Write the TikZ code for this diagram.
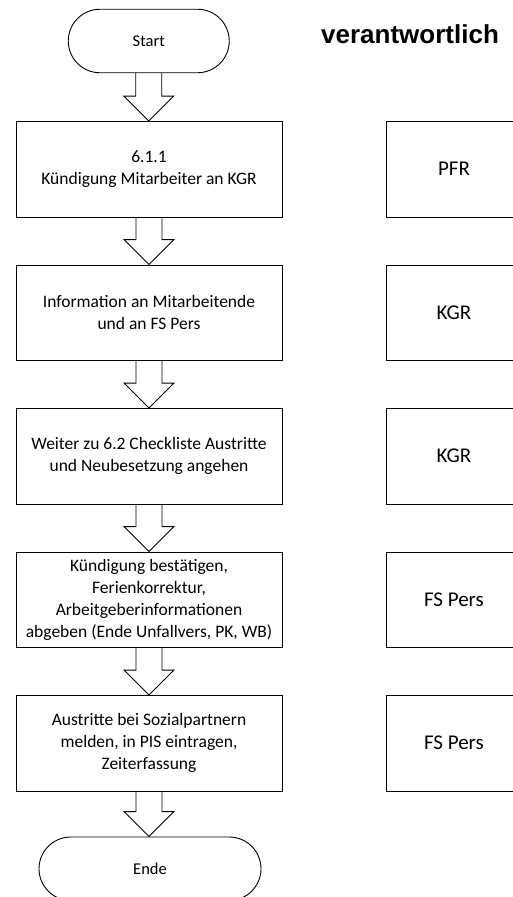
\documentclass[tikz,border=0pt]{standalone}
\usepackage{fontspec}
\setmainfont{Carlito}
\newfontfamily\headfont{Liberation Sans}
\usetikzlibrary{calc}
\tikzset{
  stepbox/.style={draw=black, line width=0.9pt, rectangle, minimum width=266pt, minimum height=95.5pt, inner sep=2pt, align=center, font=\fontsize{17.5}{22}\selectfont},
  rolebox/.style={draw=black, line width=0.9pt, rectangle, minimum width=136pt, minimum height=95.5pt, inner sep=2pt, align=center, font=\fontsize{21}{25}\selectfont},
  term/.style={draw=black, line width=0.9pt, rectangle, rounded corners=31.75pt, minimum height=63.5pt, inner sep=0pt, align=center, font=\fontsize{16.5}{20}\selectfont},
  headtext/.style={font=\headfont\bfseries\fontsize{26}{30}\selectfont, anchor=base west, inner sep=0pt},
  blk/.style={draw=black, line width=0.9pt, line join=miter}
}
\newcommand{\blkarrow}[2]{%
  \draw[blk] let \p1=(#1.south), \p2=(#2.north) in
    (\x1-13pt,\y1) -- (\x1-13pt,\y2+25pt) -- (\x1-25pt,\y2+25pt) -- (\x1,\y2)
    -- (\x1+25pt,\y2+25pt) -- (\x1+13pt,\y2+25pt) -- (\x1+13pt,\y1);}
\begin{document}
\begin{tikzpicture}[x=1pt,y=-1pt]
\useasboundingbox (0,0) rectangle (513,897);
\fill[white] (0,0) rectangle (513,897);

\node[term, minimum width=161pt] (start) at (148.75,41) {Start};
\node[headtext] (title) at (321,43.3) {verantwortlich};

\node[stepbox] (s1) at (149,169.25) {6.1.1\\Kündigung Mitarbeiter an KGR};
\node[stepbox] (s2) at (149,312.75) {Information an Mitarbeitende\\und an FS Pers};
\node[stepbox] (s3) at (149,456.25) {Weiter zu 6.2 Checkliste Austritte\\und Neubesetzung angehen};
\node[stepbox] (s4) at (149,599.75) {Kündigung bestätigen,\\Ferienkorrektur,\\Arbeitgeberinformationen\\abgeben (Ende Unfallvers, PK, WB)};
\node[stepbox] (s5) at (149,743.25) {Austritte bei Sozialpartnern\\melden, in PIS eintragen,\\Zeiterfassung};

\node[term, minimum width=222pt] (ende) at (150,868.75) {Ende};

\node[rolebox] (r1) at (454,169.25) {PFR};
\node[rolebox] (r2) at (454,312.75) {KGR};
\node[rolebox] (r3) at (454,456.25) {KGR};
\node[rolebox] (r4) at (454,599.75) {FS Pers};
\node[rolebox] (r5) at (454,743.25) {FS Pers};

\blkarrow{start}{s1}
\blkarrow{s1}{s2}
\blkarrow{s2}{s3}
\blkarrow{s3}{s4}
\blkarrow{s4}{s5}
\blkarrow{s5}{ende}
\end{tikzpicture}
\end{document}
